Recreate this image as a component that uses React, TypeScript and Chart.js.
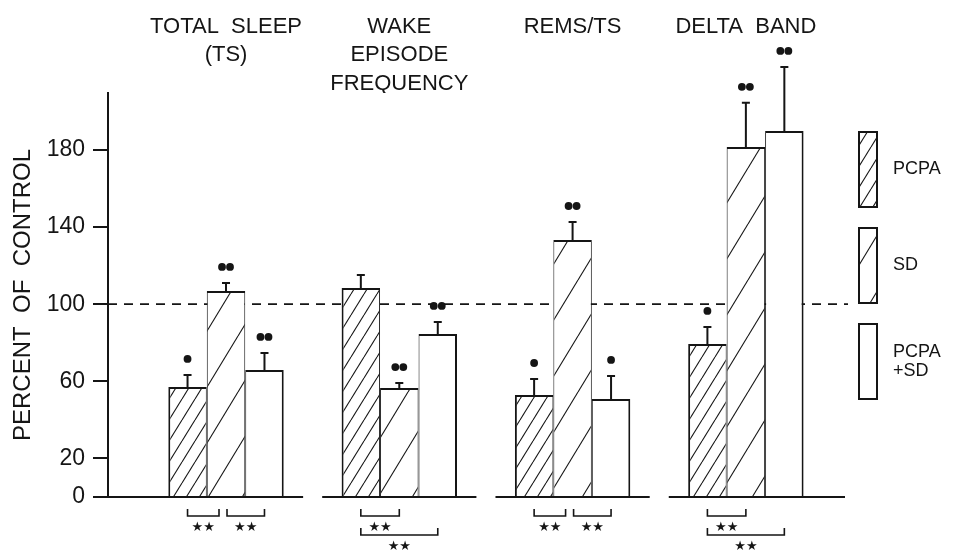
import React, { useEffect, useRef } from 'react';
import { Chart, registerables } from 'chart.js';

Chart.register(...registerables);

// ---- data ----
const categories: string[][] = [
  ['TOTAL  SLEEP', '(TS)'],
  ['WAKE', 'EPISODE', 'FREQUENCY'],
  ['REMS/TS'],
  ['DELTA  BAND'],
];
const categoryPositions = [0, 1, 2, 3];
const seriesNames = ['PCPA', 'SD', 'PCPA+SD'];
const legendLabels: string[][] = [['PCPA'], ['SD'], ['PCPA', '+SD']];

const pcpaValues = [57.1, 108.4, 52.9, 79.4];
const sdValues = [106.8, 56.5, 133.3, 181.5];
const comboValues = [65.9, 84.5, 50.8, 189.8];

const pcpaErrors = [6.2, 6.7, 8.3, 8.8];
const sdErrors = [4.2, 2.6, 9.3, 22.9];
const comboErrors = [8.8, 6.3, 12.0, 33.2];

// number of significance dots above each bar
const pcpaMarks = [1, 0, 1, 1];
const sdMarks = [2, 2, 2, 2];
const comboMarks = [2, 2, 1, 2];

const yTickValues = [0, 20, 60, 100, 140, 180];
const yAxisMin = 0;
const yAxisMax = 209.5;
const controlLevel = 100;

// comparison brackets below the axis
const bracketGroup = [0, 0, 1, 1, 2, 2, 3, 3];
const bracketFrom = [0, 1, 0, 0, 0, 1, 0, 0];
const bracketTo = [1, 2, 1, 2, 1, 2, 1, 2];
const bracketLevel = [0, 0, 0, 1, 0, 0, 0, 1];
const bracketLabel = '★★';

const INK = '#151515';
const FONT = '"Liberation Sans", Arial, Helvetica, sans-serif';

function makeHatch(w: number, h: number): CanvasPattern | string {
  const c = document.createElement('canvas');
  c.width = w;
  c.height = h;
  const g = c.getContext('2d');
  if (!g) return '#fff';
  g.fillStyle = '#fff';
  g.fillRect(0, 0, w, h);
  g.strokeStyle = INK;
  g.lineWidth = 1.1;
  for (const dx of [-w, 0, w]) {
    g.beginPath();
    g.moveTo(dx, h);
    g.lineTo(dx + w, 0);
    g.stroke();
  }
  return g.createPattern(c, 'repeat') || '#fff';
}

export default function App() {
  const ref = useRef<HTMLCanvasElement | null>(null);

  useEffect(() => {
    const canvas = ref.current;
    if (!canvas) return;
    Chart.defaults.font.family = FONT;
    Chart.defaults.color = INK;

    const dense = makeHatch(13, 21);
    const sparse = makeHatch(34, 56);
    const fills = [dense, sparse, '#ffffff'];
    const valueSets = [pcpaValues, sdValues, comboValues];
    const errorSets = [pcpaErrors, sdErrors, comboErrors];
    const markSets = [pcpaMarks, sdMarks, comboMarks];
    const borders = [
      { top: 2, left: 2, right: 1, bottom: 0 },
      { top: 2, left: 1, right: 1, bottom: 0 },
      { top: 2, left: 1, right: 2, bottom: 0 },
    ];

    const decor = {
      id: 'decor',
      beforeDatasetsDraw(chart: any) {
        const { ctx, chartArea, scales } = chart;
        const y = scales.y.getPixelForValue(controlLevel);
        ctx.save();
        ctx.strokeStyle = INK;
        ctx.lineWidth = 1.6;
        ctx.setLineDash([9, 7]);
        ctx.beginPath();
        ctx.moveTo(chartArea.left, y);
        ctx.lineTo(chartArea.right + 3, y);
        ctx.stroke();
        ctx.restore();
      },
      afterDatasetsDraw(chart: any) {
        const { ctx, chartArea, scales } = chart;
        const xs = scales.x;
        const ys = scales.y;
        const step = xs.getPixelForValue(1) - xs.getPixelForValue(0);
        ctx.save();
        // baseline segments
        ctx.strokeStyle = INK;
        ctx.lineWidth = 2;
        categoryPositions.forEach((p, i) => {
          const c = xs.getPixelForValue(p);
          const x1 = i === 0 ? chartArea.left : c - step * 0.445;
          const x2 = i === categoryPositions.length - 1 ? chartArea.right : c + step * 0.445;
          ctx.beginPath();
          ctx.moveTo(x1, chartArea.bottom);
          ctx.lineTo(x2, chartArea.bottom);
          ctx.stroke();
        });
        // error bars + significance dots
        valueSets.forEach((vals, d) => {
          const meta = chart.getDatasetMeta(d);
          meta.data.forEach((el: any, i: number) => {
            const x = el.x;
            const yTop = el.y;
            const yErr = ys.getPixelForValue(vals[i] + errorSets[d][i]);
            ctx.strokeStyle = INK;
            ctx.lineWidth = 2;
            ctx.beginPath();
            ctx.moveTo(x, yTop);
            ctx.lineTo(x, yErr);
            ctx.moveTo(x - 4, yErr);
            ctx.lineTo(x + 4, yErr);
            ctx.stroke();
            const n = markSets[d][i];
            ctx.fillStyle = INK;
            const yd = yErr - 16;
            const offs = n === 1 ? [0] : n === 2 ? [-4, 4] : [];
            offs.forEach((o) => {
              ctx.beginPath();
              ctx.arc(x + o, yd, 3.9, 0, Math.PI * 2);
              ctx.fill();
            });
          });
        });
        // comparison brackets
        ctx.lineWidth = 1.6;
        ctx.font = `13px "DejaVu Sans", sans-serif`;
        ctx.textAlign = 'center';
        ctx.textBaseline = 'middle';
        bracketGroup.forEach((g, k) => {
          const center = (b: number) => chart.getDatasetMeta(b).data[g].x;
          let x1 = center(bracketFrom[k]);
          let x2 = center(bracketTo[k]);
          const sameLevel = (j: number) => j !== k && bracketGroup[j] === g && bracketLevel[j] === bracketLevel[k];
          if (bracketGroup.some((_, j) => sameLevel(j) && bracketFrom[j] === bracketTo[k])) x2 -= 7;
          if (bracketGroup.some((_, j) => sameLevel(j) && bracketTo[j] === bracketFrom[k])) x1 += 1;
          const yTop = chartArea.bottom + 12 + bracketLevel[k] * 19;
          const yLine = yTop + 7;
          ctx.beginPath();
          ctx.moveTo(x1, yTop);
          ctx.lineTo(x1, yLine);
          ctx.lineTo(x2, yLine);
          ctx.lineTo(x2, yTop);
          ctx.stroke();
          ctx.fillText(bracketLabel, (x1 + x2) / 2, yLine + 12);
        });
        ctx.restore();
      },
      afterDraw(chart: any) {
        const { ctx, chartArea } = chart;
        const lx = chartArea.right + 13;
        ctx.save();
        seriesNames.forEach((name, i) => {
          const top = chartArea.top + 38 + i * 96;
          const w = 20;
          const h = 77;
          ctx.fillStyle = fills[i] as any;
          ctx.fillRect(lx, top, w, h);
          ctx.strokeStyle = INK;
          ctx.lineWidth = 2;
          ctx.strokeRect(lx + 1, top + 1, w - 2, h - 2);
          ctx.fillStyle = INK;
          ctx.font = `18px ${FONT}`;
          ctx.textAlign = 'left';
          ctx.textBaseline = 'middle';
          const lines = legendLabels[i];
          const lh = 19;
          const cy = top + h / 2 - ((lines.length - 1) * lh) / 2;
          lines.forEach((t, j) => ctx.fillText(t, lx + 35, cy + j * lh));
        });
        ctx.restore();
      },
    };

    const chart = new Chart(canvas, {
      type: 'bar',
      data: {
        datasets: valueSets.map((vals, d) => ({
          label: seriesNames[d],
          data: categoryPositions.map((x, i) => ({ x, y: vals[i] })),
          backgroundColor: fills[d] as any,
          borderColor: INK,
          borderWidth: borders[d] as any,
          borderSkipped: 'start' as any,
          categoryPercentage: 0.666,
          barPercentage: 1,
        })),
      },
      options: {
        responsive: false,
        animation: false,
        layout: { padding: { top: 0, left: 0, right: 109, bottom: 55 } },
        plugins: { legend: { display: false }, tooltip: { enabled: false } },
        scales: {
          x: {
            type: 'linear',
            position: 'top',
            min: -0.681,
            max: 3.572,
            offset: false,
            grid: { display: false, drawTicks: false, offset: false },
            border: { display: false },
            afterBuildTicks: (s: any) => {
              s.ticks = categoryPositions.map((v) => ({ value: v }));
            },
            afterFit: (s: any) => {
              s.height = 93;
            },
            ticks: {
              autoSkip: false,
              maxRotation: 0,
              minRotation: 0,
              padding: -5,
              crossAlign: 'far',
              color: INK,
              font: { size: 22, lineHeight: 1.3 },
              callback: (v: any) => categories[categoryPositions.indexOf(Number(v))] ?? '',
            },
          },
          y: {
            min: yAxisMin,
            max: yAxisMax,
            afterBuildTicks: (s: any) => {
              s.ticks = yTickValues.map((v) => ({ value: v }));
            },
            afterFit: (s: any) => {
              s.width = 108;
            },
            grid: { drawOnChartArea: false, drawTicks: true, tickLength: 15, color: INK, lineWidth: 2 },
            border: { display: true, color: INK, width: 2 },
            ticks: {
              padding: 8,
              color: INK,
              font: { size: 23 },
              callback: (v: any) => String(v),
            },
            title: {
              display: true,
              text: 'PERCENT  OF  CONTROL',
              color: INK,
              font: { size: 24 },
              padding: { top: 9, bottom: 0 },
            },
          },
        },
      } as any,
      plugins: [decor],
    });
    return () => chart.destroy();
  }, []);

  return (
    <div style={{ position: 'absolute', left: 0, top: 0, width: 954, height: 552, background: '#fff' }}>
      <canvas ref={ref} width={954} height={552} style={{ display: 'block' }} />
    </div>
  );
}
